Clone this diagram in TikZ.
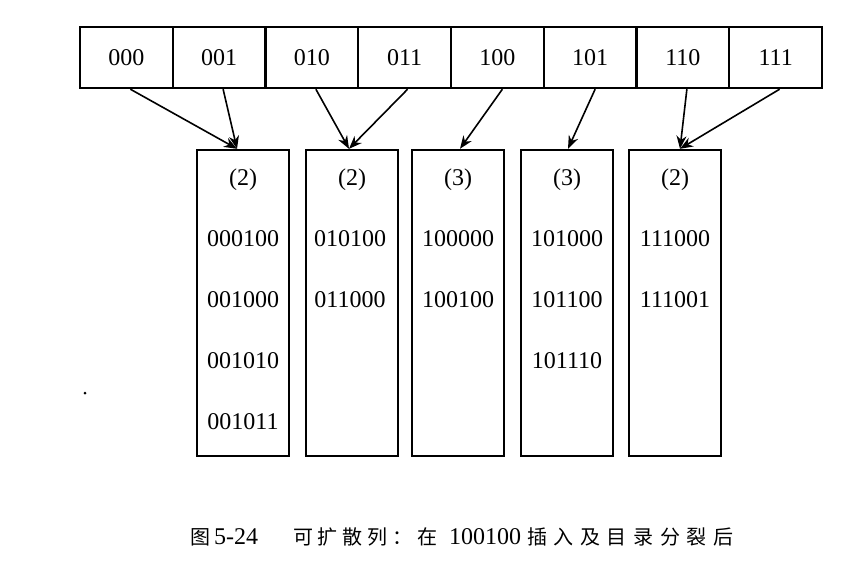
\documentclass[tikz,border=0pt]{standalone}
\usepackage{fontspec}
\setmainfont{Liberation Serif}
\newfontfamily\cjk[LetterSpace=24]{Noto Sans CJK SC}
\newfontfamily\cjkwide[LetterSpace=33]{Noto Sans CJK SC}
\usetikzlibrary{arrows.meta}
\tikzset{
  cell/.style={draw, line width=2.4pt, minimum width=92.75pt, minimum height=61pt,
    inner sep=0pt, font=\fontsize{24}{28}\selectfont},
  bucket/.style={draw, line width=2.4pt, minimum width=92pt, minimum height=306pt, inner sep=0pt},
  entry/.style={font=\fontsize{24}{28}\selectfont, inner sep=0pt},
  ptr/.style={-{Stealth[length=13pt,width=10pt]}, line width=1.6pt},
  caption/.style={font=\fontsize{24}{26}\selectfont, inner sep=0pt, anchor=west}
}
\begin{document}
\begin{tikzpicture}[x=1pt,y=-1pt]
\useasboundingbox (0,0) rectangle (856,586);
% directory
\foreach \lab [count=\i from 0] in {000,001,010,011,100,101,110,111}
  \node[cell] (d\lab) at ({80+92.75*(\i+0.5)},57.5) {\lab};
% buckets
\node[bucket] (b1) at (243,303) {};
\node[bucket] (b2) at (352,303) {};
\node[bucket] (b3) at (458,303) {};
\node[bucket] (b4) at (567,303) {};
\node[bucket] (b5) at (675,303) {};
% entries
\node[entry] (b1h) at (243,180) {(2)};
\node[entry] (b1a) at (243,239) {000100};
\node[entry] (b1b) at (243,300) {001000};
\node[entry] (b1c) at (243,361) {001010};
\node[entry] (b1d) at (243,422) {001011};
\node[entry] (b2h) at (352,180) {(2)};
\node[entry] (b2a) at (350,239) {010100};
\node[entry] (b2b) at (350,300) {011000};
\node[entry] (b3h) at (458,180) {(3)};
\node[entry] (b3a) at (458,239) {100000};
\node[entry] (b3b) at (458,300) {100100};
\node[entry] (b4h) at (567,180) {(3)};
\node[entry] (b4a) at (567,239) {101000};
\node[entry] (b4b) at (567,300) {101100};
\node[entry] (b4c) at (567,361) {101110};
\node[entry] (b5h) at (675,180) {(2)};
\node[entry] (b5a) at (675,239) {111000};
\node[entry] (b5b) at (675,300) {111001};
% pointers
\draw[ptr] ([xshift=4pt]d000.south) -- ([xshift=-6pt]b1.north);
\draw[ptr] ([xshift=4pt]d001.south) -- ([xshift=-6pt]b1.north);
\draw[ptr] ([xshift=4pt]d010.south) -- ([xshift=-3pt]b2.north);
\draw[ptr] ([xshift=3pt]d011.south) -- ([xshift=-3pt]b2.north);
\draw[ptr] ([xshift=5pt]d100.south) -- ([xshift=2pt]b3.north);
\draw[ptr] ([xshift=5pt]d101.south) -- ([xshift=1pt]b4.north);
\draw[ptr] ([xshift=4pt]d110.south) -- ([xshift=5pt]b5.north);
\draw[ptr] ([xshift=4pt]d111.south) -- ([xshift=5pt]b5.north);
% stray dot
\fill (85,393) circle (1.5pt);
% caption
\node[caption] (cap) at (190,537) {{\cjk\fontsize{20}{24}\selectfont 图}\hspace{4pt}5-24\hspace{35pt}{\cjk\fontsize{20}{24}\selectfont 可扩散列：在}\hspace{12pt}100100\hspace{6pt}{\cjkwide\fontsize{20}{24}\selectfont 插入及目录分裂后}};
\end{tikzpicture}
\end{document}
